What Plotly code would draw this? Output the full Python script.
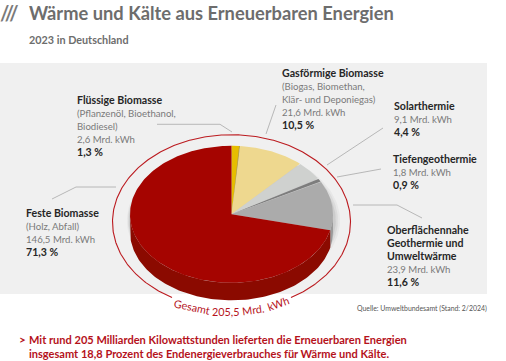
import numpy as np
import plotly.graph_objects as go

categories = ["Flüssige Biomasse", "Gasförmige Biomasse", "Solarthermie", "Tiefengeothermie",
              "Oberflächennahe Geothermie und Umweltwärme", "Feste Biomasse"]
values_twh = [2.6, 21.6, 9.1, 1.8, 23.9, 146.5]
shares = ["1,3 %", "10,5 %", "4,4 %", "0,9 %", "11,6 %", "71,3 %"]
slice_colors = ["#e6bd00", "#eed88f", "#cfd1cf", "#7d7d7d", "#ababab", "#a50400"]
side_colors = ["#b89700", "#c4ad6a", "#a8a8a8", "#666666", "#9a9a9a", "#8b0a00"]

CX, CY, RX, RY, DEPTH = 231.5, 214.3, 101.5, 68.5, 17.5
RED = "#b5121b"
GREY = "#7a7a7a"
DARK = "#262626"
FONT = "Lato"

fig = go.Figure()


def pt(a, rx=RX, ry=RY, cx=CX, cy=CY):
    return cx + rx * np.sin(a), cy - ry * np.cos(a)


def poly(x, y, color, opacity=1.0):
    fig.add_trace(go.Scatter(x=x, y=y, mode="lines", fill="toself", fillcolor=color,
                             line=dict(width=0), opacity=opacity, hoverinfo="skip", showlegend=False))


# soft shadow
for off, op in [(5, 0.08), (3.5, 0.12), (2, 0.16)]:
    a = np.linspace(0, 2 * np.pi, 200)
    x, y = pt(a, RX + off, RY + off * 0.6)
    poly(x + off * 0.4, y + DEPTH * 0.35, "#808080", op)

total = sum(values_twh)
edges = np.concatenate([[0], np.cumsum(values_twh)]) / total * 2 * np.pi

# pie rim
for i in range(len(values_twh)):
    lo, hi = max(edges[i], np.pi / 2), min(edges[i + 1], 3 * np.pi / 2)
    if hi > lo:
        a = np.linspace(lo, hi, 120)
        x, y = pt(a)
        poly(np.r_[x, x[::-1]], np.r_[y, y[::-1] + DEPTH], side_colors[i])

# pie top
for i in range(len(values_twh)):
    a = np.linspace(edges[i], edges[i + 1], 200)
    x, y = pt(a)
    poly(np.r_[CX, x, CX], np.r_[CY, y, CY], slice_colors[i])

# dark sliver at the trailing edge of the yellow slice
a = np.linspace(edges[1] - 0.012, edges[1] + 0.004, 10)
x, y = pt(a)
poly(np.r_[CX, x, CX], np.r_[CY, y, CY], "#b39a3a")

# ring with a gap for its caption
ring = np.linspace(np.radians(-150.0), np.radians(150.0), 400)
rx_, ry_ = pt(ring, 119, 87.3, 231.5, 222)
fig.add_trace(go.Scatter(x=rx_, y=ry_, mode="lines", line=dict(color="#bb1a1f", width=1.1),
                         hoverinfo="skip", showlegend=False))

shapes = [dict(type="rect", x0=0, x1=487, y0=63, y1=294, fillcolor="#f0f0f0", line_width=0, layer="below")]
leaders = [
    [(157, 124.3), (220, 124.3), (232, 132)],
    [(52, 199), (76, 187), (116, 187)],
    [(276, 105), (266, 134)],
    [(383, 128), (327, 165)],
    [(381, 169), (337, 177)],
    [(353, 205), (397, 205), (422, 218)],
]
for pts in leaders:
    for (x0, y0), (x1, y1) in zip(pts, pts[1:]):
        shapes.append(dict(type="line", x0=x0, y0=y0, x1=x1, y1=y1, line=dict(color="#a8a8a8", width=0.8)))


def note(x, y, text, size=10, color=GREY, weight=None, angle=0, anchor="left", yanchor="top"):
    f = dict(family=FONT, size=size, color=color)
    if weight:
        f["weight"] = weight
    return dict(x=x, y=y, xref="x", yref="y", text=text, showarrow=False, xanchor=anchor, yanchor=yanchor,
                align=anchor if anchor != "center" else "center", font=f, textangle=angle, borderpad=0, borderwidth=0)


def block(title, middle, twh, share):
    bold = lambda t: f'<span style="color:{DARK};font-size:10.6px"><b>{t}</b></span>'
    light = lambda t: f'<span style="font-size:9.6px">{t}</span>'
    lines = [bold(t) for t in title] + [light(t) for t in middle]
    lines += [light(f"{twh} Mrd. kWh".replace(".", ",", 1)), bold(share)]
    return "<br>".join(lines)


annotations = [
    note(0, 13, "///", size=20, weight=700, yanchor="middle"),
    note(29, 13, "Wärme und Kälte aus Erneuerbaren Energien", size=18.3, color="#6d6d6d", weight=700, yanchor="middle"),
    note(29, 39, "2023 in Deutschland", size=10.8, color="#6d6d6d", weight=700, yanchor="middle"),
    note(282, 67, block(["Gasförmige Biomasse"], ["(Biogas, Biomethan,", "Klär- und Deponiegas)"], values_twh[1], shares[1])),
    note(394, 100, block(["Solarthermie"], [], values_twh[2], shares[2])),
    note(393, 153, block(["Tiefengeothermie"], [], values_twh[3], shares[3])),
    note(387, 224, block(["Oberflächennahe", "Geothermie und", "Umweltwärme"], [], values_twh[4], shares[4])),
    note(77, 94, block(["Flüssige Biomasse"], ["(Pflanzenöl, Bioethanol,", "Biodiesel)"], values_twh[0], shares[0])),
    note(26, 207, block(["Feste Biomasse"], ["(Holz, Abfall)"], values_twh[5], shares[5])),
    note(487, 308, "Quelle: Umweltbundesamt (Stand: 2/2024)", size=6.9, color="#555555", anchor="right", yanchor="middle"),
    note(19, 339.5, ">", size=11.5, color=RED, weight=700, yanchor="middle"),
    note(29, 339.5, "Mit rund 205 Milliarden Kilowattstunden lieferten die Erneuerbaren Energien", size=11.05, color=RED, weight=700, yanchor="middle"),
    note(29, 353.5, "insgesamt 18,8 Prozent des Endenergieverbrauches für Wärme und Kälte.", size=11.05, color=RED, weight=700, yanchor="middle"),
    note(192, 306, "Gesamt", size=10.8, color=RED, angle=12, anchor="center", yanchor="middle"),
    note(225.5, 311, "205,5", size=10.8, color=RED, angle=0, anchor="center", yanchor="middle"),
    note(253, 309, "Mrd.", size=10.8, color=RED, angle=-8, anchor="center", yanchor="middle"),
    note(277.5, 303.5, "kWh", size=10.8, color=RED, angle=-20, anchor="center", yanchor="middle"),
]

fig.update_layout(
    width=506, height=361, margin=dict(l=0, r=0, t=0, b=0), paper_bgcolor="white", plot_bgcolor="white",
    xaxis=dict(range=[0, 506], visible=False, fixedrange=True),
    yaxis=dict(range=[361, 0], visible=False, fixedrange=True),
    shapes=shapes, annotations=annotations, showlegend=False,
)
fig.write_html("out.html", config=dict(displayModeBar=False), post_script="document.body.style.margin='0';")
